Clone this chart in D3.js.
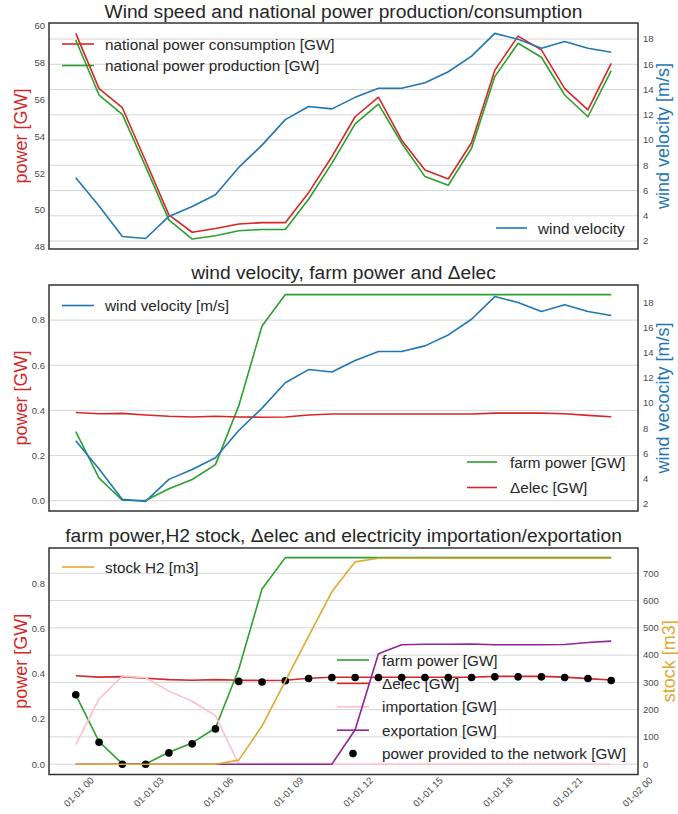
<!DOCTYPE html>
<html><head><meta charset="utf-8">
<script src="https://cdn.jsdelivr.net/npm/d3@7"></script>
<style>
html,body{margin:0;padding:0;background:#fff;}
svg{display:block;font-family:"Liberation Sans",Arial,sans-serif;}
</style></head>
<body><svg id="c" width="678" height="814"></svg>
<script>
// ---- data ----
const hours = [0,1,2,3,4,5,6,7,8,9,10,11,12,13,14,15,16,17,18,19,20,21,22,23];
const consumption = [59.6,56.6,55.56,52.67,49.74,48.8,49.0,49.25,49.32,49.32,50.95,52.9,55.07,56.13,53.8,52.18,51.69,53.66,57.6,59.45,58.7,56.6,55.44,57.97];
const production  = [59.24,56.25,55.2,52.36,49.47,48.43,48.61,48.88,48.95,48.95,50.59,52.54,54.68,55.76,53.63,51.82,51.35,53.36,57.25,59.06,58.3,56.25,55.07,57.57];
const wind = [7.02,4.77,2.36,2.2,3.95,4.73,5.66,7.83,9.6,11.62,12.66,12.47,13.38,14.1,14.1,14.54,15.41,16.65,18.45,17.98,17.27,17.8,17.27,16.95];
const farmPower = [0.306,0.100,0.002,0.001,0.053,0.094,0.160,0.420,0.774,0.913,0.913,0.913,0.913,0.913,0.913,0.913,0.913,0.913,0.913,0.913,0.913,0.913,0.913,0.913];
const deltaElec = [0.391,0.385,0.387,0.380,0.374,0.371,0.374,0.371,0.370,0.371,0.380,0.384,0.384,0.384,0.384,0.384,0.384,0.384,0.388,0.388,0.388,0.385,0.378,0.372];
const importation = [0.087,0.289,0.389,0.382,0.323,0.278,0.215,0,0,0,0,0,0,0,0,0,0,0,0,0,0,0,0,0];
const exportation = [0,0,0,0,0,0,0,0,0,0,0,0,0.152,0.488,0.528,0.530,0.530,0.531,0.528,0.528,0.528,0.529,0.538,0.544];
const stockH2 = [0,0,0,0,0,0,0,15,140,305,470,632,742,755,755,755,755,755,755,755,755,755,755,755];
const provided = [0.307,0.097,0,0,0.050,0.090,0.156,0.366,0.363,0.369,0.379,0.383,0.383,0.383,0.383,0.383,0.383,0.383,0.386,0.386,0.386,0.383,0.379,0.370];
const xTickHours = [0,3,6,9,12,15,18,21,24];
const xTickLabels = ["01-01 00","01-01 03","01-01 06","01-01 09","01-01 12","01-01 15","01-01 18","01-01 21","01-02 00"];
const p1LeftTicks = [48,50,52,54,56,58,60];
const windTicks = [2,4,6,8,10,12,14,16,18];
const powerTicks = [0,0.2,0.4,0.6,0.8];
const stockTicks = [0,100,200,300,400,500,600,700];
const titles = ["Wind speed and national power production/consumption","wind velocity, farm power and \u0394elec","farm power,H2 stock, \u0394elec and electricity importation/exportation"];

// ---- style ----
const C = {red:"#d62728", green:"#2ca02c", blue:"#1f77b4", orange:"#e1a832", pink:"#ffc0cb", purple:"#8f2697", grid:"#d6d6d6", frame:"#333", text:"#262626", tick:"#4a4a4a"};
const L = 49, R = 638;
const svg = d3.select("#c");
const t0 = Date.UTC(2019,0,1,0);
const H = 3600e3;
const date = h => new Date(t0 + h*H);
const x = d3.scaleUtc().domain([date(-1.15), date(24.15)]).range([L, R]);

function panel(top, bottom, yl, yr, leftTicks, rightTicks, gridFrom, leftFmt, rightFmt, title, titleY, rightLabel, rightColor) {
  const g = svg.append("g");
  const gGrid = g.append("g"), gLeg = g.append("g"), gData = g.append("g");
  const gs = gridFrom === "left" ? leftTicks.map(yl) : rightTicks.map(yr);
  gGrid.selectAll("line").data(gs).join("line")
    .attr("x1", L).attr("x2", R).attr("y1", d=>d).attr("y2", d=>d)
    .attr("stroke", C.grid).attr("stroke-width", 1);
  g.append("g").selectAll("text").data(leftTicks).join("text")
    .attr("x", L-4).attr("y", d=>yl(d)).attr("dy","0.35em").attr("text-anchor","end")
    .attr("font-size","9.5px").attr("fill",C.tick).text(leftFmt);
  g.append("g").selectAll("text").data(rightTicks).join("text")
    .attr("x", R+5).attr("y", d=>yr(d)).attr("dy","0.35em").attr("text-anchor","start")
    .attr("font-size","9.5px").attr("fill",C.tick).text(rightFmt);
  g.append("rect").attr("x",L).attr("y",top).attr("width",R-L).attr("height",bottom-top)
    .attr("fill","none").attr("stroke",C.frame).attr("stroke-width",1.5);
  g.append("text").attr("x",(L+R)/2).attr("y",titleY).attr("text-anchor","middle")
    .attr("font-size","19.2px").attr("fill",C.text).text(title);
  const cy = (top+bottom)/2;
  g.append("text").attr("transform",`translate(${27},${cy}) rotate(-90)`).attr("text-anchor","middle")
    .attr("font-size","18px").attr("fill",C.red).text("power [GW]");
  g.append("text").attr("transform",`translate(${rightLabel.x},${cy}) rotate(-90)`).attr("text-anchor","middle")
    .attr("font-size","18px").attr("fill",rightColor).text(rightLabel.text);
  return {gLeg, gData};
}

function line(g, vals, y, color, w) {
  const gen = d3.line().x((d,i)=>x(date(hours[i]))).y(d=>y(d));
  g.append("path").attr("d", gen(vals)).attr("fill","none").attr("stroke",color)
    .attr("stroke-width", w||1.6).attr("stroke-linejoin","round");
}
function legend(g, items, x0, y0, dy, lineLen, textGap) {
  items.forEach((it,i)=>{
    const yy = y0 + i*dy;
    if (it.dot) {
      g.append("circle").attr("cx", x0+lineLen/2).attr("cy", yy).attr("r",3.8).attr("fill","#000");
    } else {
      g.append("line").attr("x1",x0).attr("x2",x0+lineLen).attr("y1",yy).attr("y2",yy)
        .attr("stroke",it.color).attr("stroke-width",1.6);
    }
    g.append("text").attr("x", x0+lineLen+textGap).attr("y", yy).attr("dy","0.36em")
      .attr("font-size","15.3px").attr("fill",C.text).text(it.label);
  });
}

const fmtInt = d=>d3.format("d")(d);
const fmt1 = d=>d3.format(".1f")(d);

// ---- panel 1 ----
{
  const top=23, bottom=249;
  const yl = d3.scaleLinear().domain([47.89,60.16]).range([bottom,top]);
  const yr = d3.scaleLinear().domain([1.37,19.27]).range([bottom,top]);
  const p = panel(top,bottom,yl,yr,p1LeftTicks,windTicks,"right",fmtInt,fmtInt,titles[0],18,{x:669,text:"wind velocity [m/s]"},C.blue);
  legend(p.gLeg,[{label:"national power consumption [GW]",color:C.red},{label:"national power production [GW]",color:C.green}],62,44,21.5,32,11);
  legend(p.gLeg,[{label:"wind velocity",color:C.blue}],496,228,22,31,11);
  line(p.gData, consumption, yl, C.red);
  line(p.gData, production, yl, C.green);
  line(p.gData, wind, yr, C.blue);
}
// ---- panel 2 ----
{
  const top=285, bottom=511;
  const yl = d3.scaleLinear().domain([-0.0455,0.9555]).range([bottom,top]);
  const yr = d3.scaleLinear().domain([1.44,19.37]).range([bottom,top]);
  const p = panel(top,bottom,yl,yr,powerTicks,windTicks,"left",fmt1,fmtInt,titles[1],279,{x:669,text:"wind vecocity [m/s]"},C.blue);
  legend(p.gLeg,[{label:"wind velocity [m/s]",color:C.blue}],62,305.5,22,32,11);
  legend(p.gLeg,[{label:"farm power [GW]",color:C.green},{label:"\u0394elec [GW]",color:C.red}],467,462,25.5,30,13);
  line(p.gData, farmPower, yl, C.green);
  line(p.gData, deltaElec, yl, C.red);
  line(p.gData, wind, yr, C.blue);
}
// ---- panel 3 ----
{
  const top=548, bottom=774.5;
  const yl = d3.scaleLinear().domain([-0.0455,0.9555]).range([bottom,top]);
  const yr = d3.scaleLinear().domain([-37.75,792.75]).range([bottom,top]);
  const p = panel(top,bottom,yl,yr,powerTicks,stockTicks,"right",fmt1,fmtInt,titles[2],541.5,{x:675,text:"stock [m3]"},C.orange);
  legend(p.gLeg,[{label:"stock H2 [m3]",color:C.orange}],62,567,22,32,11);
  legend(p.gLeg,[
    {label:"farm power [GW]",color:C.green},
    {label:"\u0394elec [GW]",color:C.red},
    {label:"importation [GW]",color:C.pink},
    {label:"exportation [GW]",color:C.purple},
    {label:"power provided to the network [GW]",dot:true}],337,660,23.4,32,13);
  line(p.gData, farmPower, yl, C.green);
  line(p.gData, deltaElec, yl, C.red);
  line(p.gData, importation, yl, C.pink);
  line(p.gData, exportation, yl, C.purple);
  p.gData.append("g").selectAll("circle").data(provided).join("circle")
    .attr("cx",(d,i)=>x(date(hours[i]))).attr("cy",d=>yl(d)).attr("r",3.8).attr("fill","#000");
  line(p.gData, stockH2, yr, C.orange);
  svg.append("g").selectAll("text").data(xTickHours).join("text")
    .attr("transform",h=>`translate(${x(date(h))+3},${792}) rotate(-45)`)
    .attr("text-anchor","middle").attr("dy","0.35em")
    .attr("font-size","9.5px").attr("fill",C.tick)
    .text((h,i)=>xTickLabels[i]);
}
</script></body></html>
